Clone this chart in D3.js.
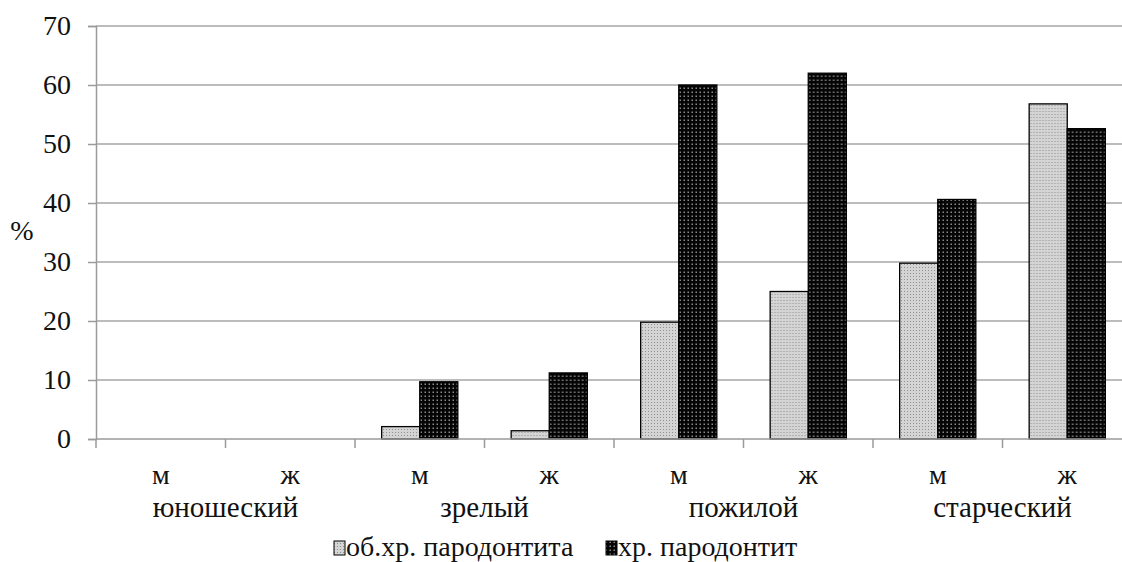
<!DOCTYPE html>
<html>
<head>
<meta charset="utf-8">
<script src="https://cdn.jsdelivr.net/npm/d3@7"></script>
</head>
<body style="margin:0;background:#fff">
<div id="wrapper"></div>
<script>
// age groups, each split by sex
const ageGroups = ["юношеский", "зрелый", "пожилой", "старческий"]
const sexes = ["м", "ж"]
const series = ["об.хр. пародонтита", "хр. пародонтит"]
// values per bar, in order: юношеский м, ж, зрелый м, ж, пожилой м, ж, старческий м, ж
const obChronic = [0, 0, 2.1, 1.4, 19.8, 25.0, 29.8, 56.8]
const chronic = [0, 0, 9.7, 11.2, 60.0, 62.0, 40.6, 52.6]
const yTicks = [0, 10, 20, 30, 40, 50, 60, 70]

function drawChart() {
    // inline style string with single quotes: the only form that kept the serif face
    const textStyle = size => `font-family:'Times New Roman',serif;font-size:${size}px`
    const dimensions = {
        width: 1122,
        height: 562,
        margin: { top: 26, right: -10, bottom: 123, left: 96 },
    }
    dimensions.boundedWidth = dimensions.width - dimensions.margin.left - dimensions.margin.right
    dimensions.boundedHeight = dimensions.height - dimensions.margin.top - dimensions.margin.bottom

    const dataset = []
    ageGroups.forEach((g, gi) => sexes.forEach((s, si) => {
        const i = gi * 2 + si
        dataset.push({ key: g + "-" + s, group: g, sex: s, values: [obChronic[i], chronic[i]] })
    }))

    const wrapper = d3.select("#wrapper").append("svg")
        .attr("width", dimensions.width)
        .attr("height", dimensions.height)

    // bar fill textures
    const defs = wrapper.append("defs")
    const light = defs.append("pattern")
        .attr("id", "lightDots").attr("patternUnits", "userSpaceOnUse")
        .attr("width", 3).attr("height", 3)
    light.append("rect").attr("width", 3).attr("height", 3).attr("fill", "#d4d4d4")
    light.append("rect").attr("x", 1).attr("y", 1).attr("width", 1).attr("height", 1).attr("fill", "#909090")

    const dark = defs.append("pattern")
        .attr("id", "darkDots").attr("patternUnits", "userSpaceOnUse")
        .attr("width", 4).attr("height", 4)
    dark.append("rect").attr("width", 4).attr("height", 4).attr("fill", "#050505")
    dark.append("rect").attr("x", 1.5).attr("y", 1.5).attr("width", 1.5).attr("height", 1.5).attr("fill", "#8a8a8a")

    const fills = ["url(#lightDots)", "url(#darkDots)"]

    const bounds = wrapper.append("g")
        .attr("transform", `translate(${dimensions.margin.left},${dimensions.margin.top})`)

    const xScale = d3.scaleBand()
        .domain(dataset.map(d => d.key))
        .range([0, dimensions.boundedWidth])
    const xInner = d3.scaleBand()
        .domain(d3.range(series.length))
        .range([0, xScale.bandwidth()])
        .paddingOuter(0.7)
    const yScale = d3.scaleLinear()
        .domain([0, 70])
        .range([dimensions.boundedHeight, 0])

    // gridlines
    bounds.append("g").selectAll("line")
        .data(yTicks.filter(t => t > 0))
        .join("line")
        .attr("x1", 0).attr("x2", dimensions.boundedWidth)
        .attr("y1", d => yScale(d)).attr("y2", d => yScale(d))
        .attr("stroke", "#a6a6a6").attr("stroke-width", 1.5)

    // bars
    const groups = bounds.append("g").selectAll("g")
        .data(dataset)
        .join("g")
        .attr("transform", d => `translate(${xScale(d.key)},0)`)
    groups.selectAll("rect")
        .data(d => d.values.map((v, i) => ({ v, i })).filter(e => e.v > 0))
        .join("rect")
        .attr("x", e => xInner(e.i))
        .attr("width", xInner.bandwidth())
        .attr("y", e => yScale(e.v))
        .attr("height", e => yScale(0) - yScale(e.v))
        .attr("fill", e => fills[e.i])
        .attr("stroke", "#000").attr("stroke-width", 1.3)

    // y axis
    const yAxis = bounds.append("g")
        .call(d3.axisLeft(yScale).tickValues(yTicks).tickSize(8).tickPadding(17))
        .attr("font-family", null)
        .attr("font-size", null)
    yAxis.select(".domain").attr("stroke", "#9a9a9a").attr("stroke-width", 1.5)
    yAxis.selectAll(".tick line").attr("stroke", "#9a9a9a").attr("stroke-width", 1.5)
    yAxis.selectAll(".tick text")
        .attr("style", textStyle(28)).attr("fill", "#111")

    // x axis with category boundary ticks
    const xAxis = bounds.append("g").attr("transform", `translate(0,${dimensions.boundedHeight})`)
    xAxis.append("line")
        .attr("x1", 0).attr("x2", dimensions.boundedWidth)
        .attr("stroke", "#9a9a9a").attr("stroke-width", 1.5)
    xAxis.selectAll(".bound")
        .data(dataset)
        .join("line").attr("class", "bound")
        .attr("x1", d => xScale(d.key)).attr("x2", d => xScale(d.key))
        .attr("y1", 0).attr("y2", 9)
        .attr("stroke", "#9a9a9a").attr("stroke-width", 1.5)
    xAxis.selectAll(".sex")
        .data(dataset)
        .join("text").attr("class", "sex")
        .attr("x", d => xScale(d.key) + xScale.bandwidth() / 2)
        .attr("y", 45)
        .attr("text-anchor", "middle")
        .attr("style", textStyle(28)).attr("fill", "#111")
        .text(d => d.sex)
    xAxis.selectAll(".age")
        .data(ageGroups)
        .join("text").attr("class", "age")
        .attr("x", g => xScale(g + "-" + sexes[1]))
        .attr("y", 78)
        .attr("text-anchor", "middle")
        .attr("style", textStyle(29)).attr("fill", "#111")
        .text(g => g)

    // y axis label
    wrapper.append("text")
        .attr("x", 22).attr("y", 240)
        .attr("text-anchor", "middle")
        .attr("style", textStyle(28)).attr("fill", "#111")
        .text("%")

    // legend
    const legendItems = [{ x: 334, i: 0 }, { x: 606, i: 1 }]
    const legend = wrapper.append("g").attr("transform", "translate(0,548)")
    legend.selectAll("rect")
        .data(legendItems)
        .join("rect")
        .attr("x", d => d.x).attr("y", -7)
        .attr("width", 11).attr("height", 14)
        .attr("fill", d => fills[d.i])
        .attr("stroke", "#000").attr("stroke-width", 1)
    legend.selectAll("text")
        .data(legendItems)
        .join("text")
        .attr("x", d => d.x + 12).attr("y", 8)
        .attr("style", textStyle(28)).attr("fill", "#111")
        .text(d => series[d.i])
}

drawChart()
</script>
</body>
</html>
